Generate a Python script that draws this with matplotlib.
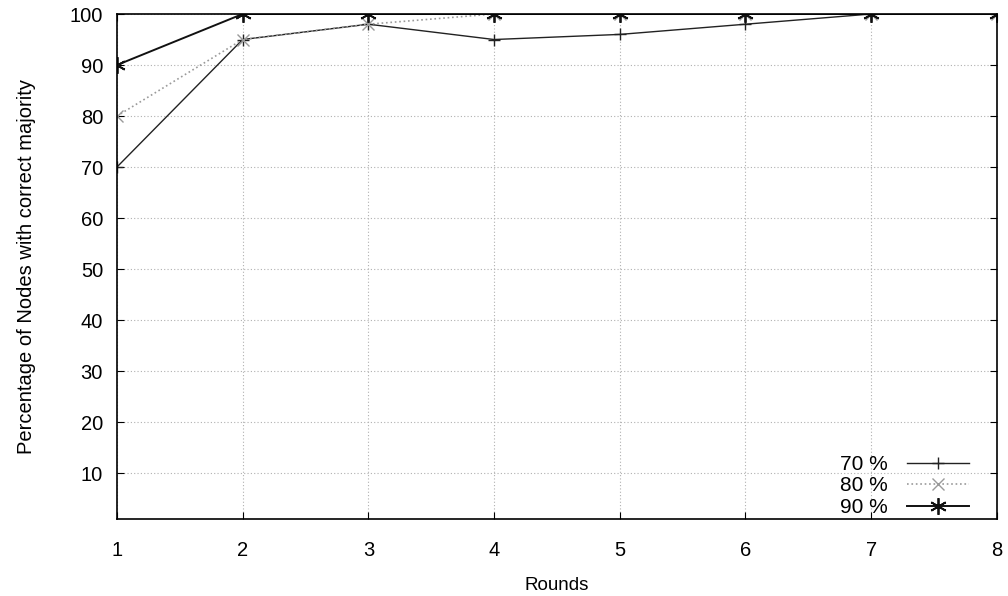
# Percentage of nodes with correct majority over rounds, gnuplot-like look
import matplotlib
matplotlib.use('Agg')
from matplotlib import pyplot as plt

plt.rcParams['font.family'] = ['Liberation Sans', 'DejaVu Sans']

# data
rounds = [1, 2, 3, 4, 5, 6, 7, 8]
pct_70 = [70, 95, 98, 95, 96, 98, 100, 100]
pct_80 = [80, 95, 98, 100, 100, 100, 100, 100]
pct_90 = [90, 100, 100, 100, 100, 100, 100, 100]
labels = ['70 %', '80 %', '90 %']
y_ticks = [10, 20, 30, 40, 50, 60, 70, 80, 90, 100]

fig = plt.figure(figsize=(10.08, 5.96), dpi=100)
ax = fig.add_axes([0.116, 0.129, 0.873, 0.8475])

l70, = ax.plot(rounds, pct_70, color='#222222', linestyle='-', linewidth=1.0,
               marker='+', markersize=9, markeredgewidth=1.0)
l80, = ax.plot(rounds, pct_80, color='#9a9a9a', linestyle=':', linewidth=1.2,
               marker='x', markersize=8, markeredgewidth=1.0)
l90, = ax.plot(rounds, pct_90, color='#111111', linestyle='-', linewidth=1.4,
               marker=(6, 2, 0), markersize=12, markeredgewidth=1.3)

ax.set_xlim(1, 8)
ax.set_ylim(1, 100)
ax.set_xticks(rounds)
ax.set_yticks(y_ticks)
ax.grid(True, color='#b0b0b0', linestyle=(0, (1, 2)), linewidth=0.8)
ax.tick_params(direction='in', top=True, right=True, length=5, labelsize=14.5)
ax.tick_params(axis='x', pad=16)
ax.tick_params(axis='y', pad=10)
for s in ax.spines.values():
    s.set_linewidth(1.2)

ax.set_xlabel('Rounds', fontsize=13.5, labelpad=12)
ax.set_ylabel('Percentage of Nodes with correct majority', fontsize=14.5,
              labelpad=24)

# legend on the lower right, text before the line sample
ax.legend((l70, l80, l90), labels, loc='lower right', frameon=False,
          markerfirst=False, fontsize=15, handlelength=3.0, labelspacing=0.12,
          handletextpad=0.9, borderaxespad=0.0, bbox_to_anchor=(0.978, -0.012))

plt.savefig('out.png', dpi=100)
